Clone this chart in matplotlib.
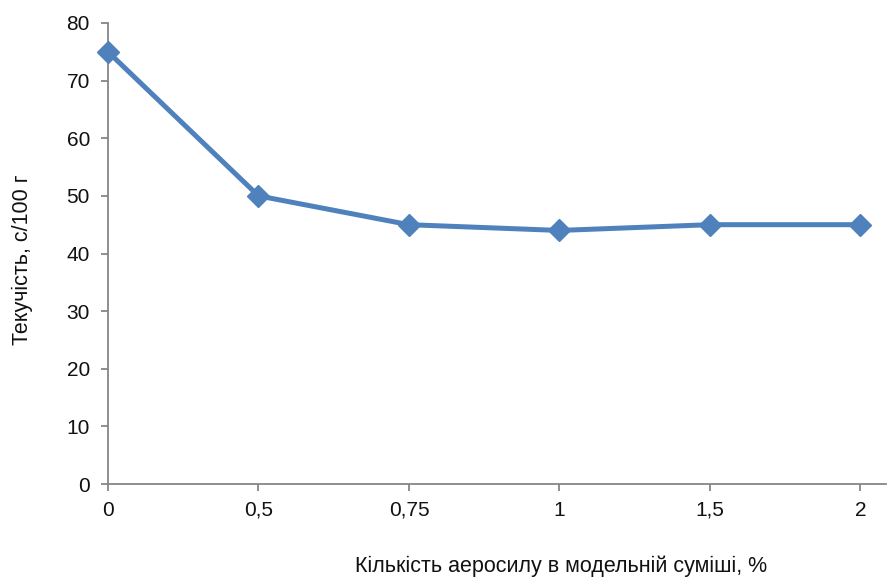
import matplotlib
matplotlib.use('Agg')
import matplotlib.pyplot as plt

# Data
categories = ['0', '0,5', '0,75', '1', '1,5', '2']
flow_values = [75, 50, 45, 44, 45, 45]
y_ticks = [0, 10, 20, 30, 40, 50, 60, 70, 80]

plt.rcParams['font.family'] = ['Liberation Sans', 'DejaVu Sans']

fig = plt.figure(figsize=(8.91, 5.77), dpi=100)
ax = fig.add_axes([108 / 891, 1 - 484 / 577, (886 - 108) / 891, (484 - 23) / 577])

x = list(range(len(categories)))
ax.plot(x, flow_values, color='#4F81BD', linewidth=3.6, marker='D',
        markersize=11, markeredgecolor='#4F81BD', clip_on=False, zorder=3)

ax.set_xlim(0, 5.17)
ax.set_ylim(0, 80)
ax.set_xticks(x)
ax.set_xticklabels(categories)
ax.set_yticks(y_ticks)

spine_color = '#868686'
for side in ['top', 'right']:
    ax.spines[side].set_visible(False)
for side in ['left', 'bottom']:
    ax.spines[side].set_color(spine_color)
    ax.spines[side].set_linewidth(1.3)

ax.tick_params(axis='both', direction='out', length=5, width=1.3,
               color=spine_color, labelsize=15, labelcolor='#111111')
ax.tick_params(axis='y', pad=8)
ax.tick_params(axis='x', pad=7)

fig.text(22 / 891, 1 - 260 / 577, 'Текучість, с/100 г', rotation=90,
         ha='center', va='center', fontsize=15.5, color='#111111')
fig.text(561 / 891, 1 - 566 / 577, 'Кількість аеросилу в модельній суміші, %',
         ha='center', va='center', fontsize=15.5, color='#111111')

fig.savefig('out.png', dpi=100)
